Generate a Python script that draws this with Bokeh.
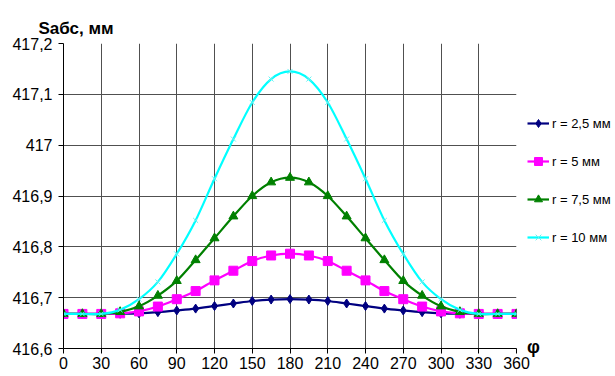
from bokeh.plotting import figure
from bokeh.models import (Range1d, FixedTicker, CustomJSTickFormatter,
                          Legend, LegendItem)
from bokeh.embed import file_html
from bokeh.resources import INLINE

# Rotation angle, degrees
phi = [0, 15, 30, 45, 60, 75, 90, 105, 120, 135, 150, 165, 180,
       195, 210, 225, 240, 255, 270, 285, 300, 315, 330, 345, 360]

# Absolute displacement S_abs, mm, for each radius
s_r25 = [416.668, 416.668, 416.668, 416.6683, 416.6692, 416.6715, 416.6748,
         416.6785, 416.6835, 416.6885, 416.6935, 416.6963, 416.6972,
         416.6963, 416.6935, 416.6885, 416.6835, 416.6785, 416.6748,
         416.6715, 416.6692, 416.6683, 416.668, 416.668, 416.668]
s_r5 = [416.668, 416.668, 416.668, 416.6692, 416.673, 416.6825, 416.697,
        416.713, 416.734, 416.753, 416.772, 416.783, 416.7865,
        416.783, 416.772, 416.753, 416.734, 416.713, 416.697,
        416.6825, 416.673, 416.6692, 416.668, 416.668, 416.668]
s_r75 = [416.668, 416.668, 416.668, 416.672, 416.683, 416.704, 416.733,
         416.774, 416.817, 416.860, 416.900, 416.927, 416.936,
         416.927, 416.900, 416.860, 416.817, 416.774, 416.733,
         416.704, 416.683, 416.672, 416.668, 416.668, 416.668]
s_r10 = [416.668, 416.668, 416.668, 416.676, 416.697, 416.731, 416.786,
         416.852, 416.934, 417.012, 417.084, 417.130, 417.145,
         417.130, 417.084, 417.012, 416.934, 416.852, 416.786,
         416.731, 416.697, 416.676, 416.668, 416.668, 416.668]

series_labels = ["r = 2,5 мм", "r = 5 мм", "r = 7,5 мм", "r = 10 мм"]
series_colors = ["#000080", "#FF00FF", "#008000", "#00FFFF"]
series_markers = ["diamond", "square", "triangle", "x"]
series_sizes = [9, 9, 9, 7]

x_ticks = [0, 30, 60, 90, 120, 150, 180, 210, 240, 270, 300, 330, 360]
y_ticks = [416.6, 416.7, 416.8, 416.9, 417.0, 417.1, 417.2]

FONT = "Liberation Sans"

p = figure(frame_width=453, frame_height=305, output_backend="svg",
           toolbar_location=None,
           x_range=Range1d(0, 360), y_range=Range1d(416.6, 417.2),
           min_border_left=63, min_border_right=99, min_border_top=43,
           min_border_bottom=28)
p.background_fill_color = "white"
p.border_fill_color = "white"
p.outline_line_color = None

# y-axis caption as a left-aligned title above the plot
p.title.text = "Sабс, мм"
p.title.align = "left"
p.title.offset = -25
p.title.standoff = 11
p.title.text_font = FONT
p.title.text_font_size = "17px"
p.title.text_font_style = "bold"
p.title.text_color = "black"

for ax, ticks in ((p.xaxis[0], x_ticks), (p.yaxis[0], y_ticks)):
    ax.ticker = FixedTicker(ticks=ticks)
    ax.axis_line_color = "black"
    ax.axis_line_width = 1
    ax.major_tick_line_color = "black"
    ax.major_tick_out = 5
    ax.major_tick_in = 0
    ax.minor_tick_line_color = None
    ax.major_label_text_font = FONT
    ax.major_label_text_font_size = "16px"
    ax.major_label_text_color = "black"

p.yaxis[0].major_label_standoff = 6
p.xaxis[0].major_label_standoff = 3
p.yaxis[0].formatter = CustomJSTickFormatter(
    code="return (Math.round(tick * 10) / 10).toString().replace('.', ',');")

for g in (p.xgrid[0], p.ygrid[0]):
    g.grid_line_color = "#505050"
    g.grid_line_width = 1


def smooth_controls(xs, ys):
    """Cubic Bezier control points for a smoothed line through the points."""
    n = len(xs)
    segs = {k: [] for k in ("x0", "y0", "x1", "y1", "cx0", "cy0", "cx1", "cy1")}
    for i in range(n - 1):
        i0 = max(i - 1, 0)
        i3 = min(i + 2, n - 1)
        segs["x0"].append(xs[i]); segs["y0"].append(ys[i])
        segs["x1"].append(xs[i + 1]); segs["y1"].append(ys[i + 1])
        segs["cx0"].append(xs[i] + (xs[i + 1] - xs[i0]) / 6)
        segs["cy0"].append(ys[i] + (ys[i + 1] - ys[i0]) / 6)
        segs["cx1"].append(xs[i + 1] - (xs[i3] - xs[i]) / 6)
        segs["cy1"].append(ys[i + 1] - (ys[i3] - ys[i]) / 6)
    return segs


items = []
for vals, label, color, marker, size in zip(
        [s_r25, s_r5, s_r75, s_r10], series_labels, series_colors,
        series_markers, series_sizes):
    c = smooth_controls(phi, vals)
    curve = p.bezier(x0=c["x0"], y0=c["y0"], x1=c["x1"], y1=c["y1"],
                     cx0=c["cx0"], cy0=c["cy0"], cx1=c["cx1"], cy1=c["cy1"],
                     line_color=color, line_width=2.2)
    if marker == "x":
        pts = p.scatter(phi, vals, marker="x", size=size, line_color="#66f0f0",
                        line_width=1)
    else:
        pts = p.scatter(phi, vals, marker=marker, size=size, fill_color=color,
                        line_color=color)
    items.append(LegendItem(label=label, renderers=[curve, pts]))

# Legend on the right; its title carries the x-axis symbol below the entries
legend = Legend(items=items, location=(11, -10), padding=0, margin=0,
                spacing=18, label_height=20, glyph_height=20, glyph_width=22,
                label_standoff=3, background_fill_alpha=0,
                border_line_color=None, label_text_font=FONT,
                label_text_font_size="13px", label_text_color="black",
                title="φ", title_location="below", title_standoff=90,
                title_text_font=FONT, title_text_font_size="18px",
                title_text_font_style="bold", title_text_color="black")
p.add_layout(legend, "right")

open("out.html", "w").write(file_html(p, INLINE))
